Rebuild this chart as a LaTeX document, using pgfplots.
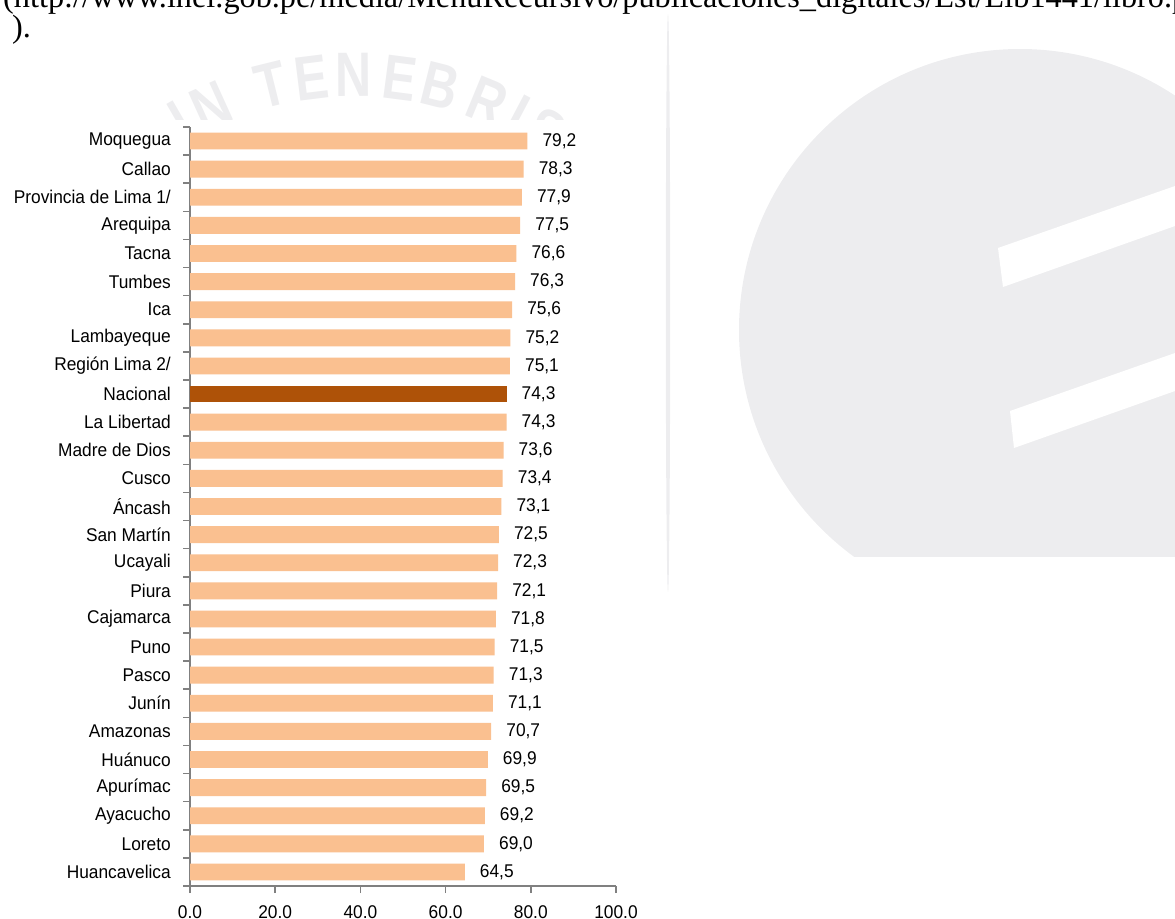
\documentclass[border=0pt]{standalone}
\usepackage{fontspec}
\usepackage{pgfplots}
\pgfplotsset{compat=1.18}
\newfontfamily\chartfont{Liberation Sans}[FakeStretch=0.94]
\newfontfamily\docfont{Liberation Serif}
\newfontfamily\wmfont{Liberation Sans}[FakeStretch=0.8]
\definecolor{barlight}{HTML}{FAC090}
\definecolor{bardark}{HTML}{AE5208}
\definecolor{axisgray}{HTML}{808080}
\definecolor{wm}{HTML}{EDEDEF}
\newcommand{\cf}{\chartfont\fontsize{18.5}{20}\selectfont}
\begin{document}
\begin{tikzpicture}
\useasboundingbox (0,0) rectangle (1175bp,919bp);
\clip (0,0) rectangle (1175bp,919bp);
\begin{scope}[x=1bp,y=1bp]
% faint watermark of the page
\fill[wm] (668,616) ellipse (2.2 and 289);
\begin{scope}
  \clip (700,362) rectangle (1175,919);
  \fill[wm] (1020,589) circle (281);
\end{scope}
\fill[white] (998,671) -- (1175,733) -- (1175,693) -- (1003,632) -- cycle;
\fill[white] (1010,508) -- (1175,566) -- (1175,528) -- (1014,471) -- cycle;
\foreach \ch/\a in {I/-30,N/-24.4,T/-13.9,E/-7.1,N/-0.3,E/7.4,B/14.1,R/22.4,I/27.8,S/33}
  \node[text=wm, font=\wmfont\bfseries\fontsize{63}{63}\selectfont, rotate=-\a, inner sep=0pt] at ({355+349*sin(\a)},{495+349*cos(\a)}) {\ch};
\fill[white] (0,0) rectangle (660,799);
% page text
\node[anchor=base west, inner sep=0pt, font=\docfont\fontsize{32.4}{32.4}\selectfont] at (3,911) {(http://www.inei.gob.pe/media/MenuRecursivo/publicaciones\_digitales/Est/Lib1441/libro.pdf};
\node[anchor=base west, inner sep=0pt, font=\docfont\fontsize{32.4}{32.4}\selectfont] at (12,881) {).};
\end{scope}
\begin{axis}[
  at={(190bp,33bp)}, anchor=south west,
  scale only axis, width=426bp, height=759bp,
  xmin=0, xmax=100, ymin=-0.5, ymax=26.5,
  axis x line=bottom, axis y line=left,
  axis line style={draw=axisgray, line width=1.8bp, -},
  xtick={0,20,...,100},
  ytick={-0.5,0.5,...,26.5},
  y tick label as interval,
  yticklabels={Huancavelica,Loreto,Ayacucho,Apurímac,Huánuco,Amazonas,Junín,Pasco,Puno,Cajamarca,Piura,Ucayali,San Martín,Áncash,Cusco,Madre de Dios,La Libertad,Nacional,Región Lima 2/,Lambayeque,Ica,Tumbes,Tacna,Arequipa,Provincia de Lima 1/,Callao,Moquegua},
  tick align=outside,
  major tick length=7bp,
  tick style={draw=axisgray, line width=1.5bp},
  xticklabel style={font=\cf, inner sep=0pt, yshift=-12bp, /pgf/number format/.cd, fixed, fixed zerofill, precision=1, assume math mode=true},
  yticklabel style={font=\cf, inner sep=0pt, anchor=east, xshift=-12bp},
  xbar, bar width=0.6, bar shift=0pt,
  point meta=x,
  nodes near coords={\pgfmathprintnumber[fixed,fixed zerofill,precision=1,use comma,assume math mode=true]{\pgfplotspointmeta}},
  nodes near coords style={font=\cf, inner sep=0pt, anchor=west, xshift=15bp},
  clip=false,
]
\addplot[fill=barlight, draw=none] coordinates {
 (64.5,0) (69.0,1) (69.2,2) (69.5,3) (69.9,4) (70.7,5) (71.1,6) (71.3,7) (71.5,8) (71.8,9)
 (72.1,10) (72.3,11) (72.5,12) (73.1,13) (73.4,14) (73.6,15) (74.3,16)
 (75.1,18) (75.2,19) (75.6,20) (76.3,21) (76.6,22) (77.5,23) (77.9,24) (78.3,25) (79.2,26)};
\addplot[fill=bardark, draw=none] coordinates {(74.3,17)};
\end{axis}
\end{tikzpicture}
\end{document}
